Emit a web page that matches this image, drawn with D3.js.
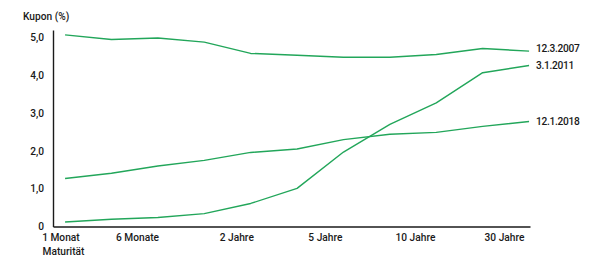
<!DOCTYPE html>
<head>
    <title>Kupon</title>
    <script src="https://cdnjs.cloudflare.com/ajax/libs/d3/7.1.1/d3.min.js"></script>
    <style>
        body { margin: 0; background: #fff; }
        text { font-family: Roboto, "Liberation Sans", Arial, sans-serif; font-weight: 500; fill: #1a1a1a; }
    </style>
</head>
<body>
    <div id="chart"></div>
    <script type="text/javascript">
        // maturity points (index along x) and the yield curves
        const points = [0, 1, 2, 3, 4, 5, 6, 7, 8, 9, 10];
        const seriesNames = ["12.3.2007", "3.1.2011", "12.1.2018"];
        const s2007 = [5.07, 4.95, 4.99, 4.88, 4.58, 4.53, 4.48, 4.48, 4.55, 4.71, 4.64];
        const s2011 = [0.12, 0.19, 0.24, 0.34, 0.61, 1.01, 1.97, 2.70, 3.27, 4.07, 4.26];
        const s2018 = [1.27, 1.41, 1.60, 1.75, 1.96, 2.05, 2.30, 2.44, 2.49, 2.65, 2.78];

        // x tick labels and where they sit on the index scale
        const xTickLabels = ["1 Monat", "6 Monate", "2 Jahre", "5 Jahre", "10 Jahre", "30 Jahre"];
        const xTickPos = [-0.1, 1.55, 3.69, 5.6, 7.54, 9.46];
        const yTicks = [0, 1, 2, 3, 4, 5];

        const width = 600;
        const height = 265;
        const green = "#22a65a";
        const font = "Roboto, 'Liberation Sans', Arial, sans-serif";

        const svg = d3.select("#chart")
            .append("svg")
            .attr("width", width)
            .attr("height", height);

        const xScale = d3.scaleLinear()
            .domain([-0.26, 10.02])
            .range([53, 530]);

        const yScale = d3.scaleLinear()
            .domain([0, 5.2])
            .range([226.5, 30]);

        // X Axis
        const xAxis = d3.axisBottom(xScale)
            .tickValues(xTickPos)
            .tickFormat((d, i) => xTickLabels[i])
            .tickSize(0)
            .tickPadding(7);

        svg.append("g")
            .attr("class", "axis x")
            .attr("transform", "translate(0," + yScale(0) + ")")
            .call(xAxis);

        // Y Axis
        const yAxis = d3.axisLeft(yScale)
            .tickValues(yTicks)
            .tickFormat(d => d === 0 ? "0" : d3.format(".1f")(d).replace(".", ","))
            .tickSize(0)
            .tickPadding(9);

        svg.append("g")
            .attr("class", "axis y")
            .attr("transform", "translate(" + xScale.range()[0] + ",0)")
            .call(yAxis);

        svg.selectAll(".axis .domain")
            .attr("stroke", "#1a1a1a")
            .attr("stroke-width", 1.4);
        svg.selectAll(".axis text")
            .attr("font-size", "10.2px")
            .attr("font-family", font)
            .attr("font-weight", 500)
            .attr("fill", "#1a1a1a");

        // axis titles
        svg.append("text")
            .attr("x", 23)
            .attr("y", 19.5)
            .attr("font-size", "10.2px")
            .text("Kupon (%)");

        svg.append("text")
            .attr("x", 42.5)
            .attr("y", 254.5)
            .attr("font-size", "10.2px")
            .text("Maturität");

        // lines
        const allSeries = [s2007, s2011, s2018];
        const line = d3.line()
            .x((d, i) => xScale(points[i]))
            .y(d => yScale(d));

        svg.append("g")
            .attr("class", "lines")
            .selectAll("path")
            .data(allSeries)
            .enter()
            .append("path")
            .attr("d", d => line(d))
            .attr("fill", "none")
            .attr("stroke", green)
            .attr("stroke-width", 1.4)
            .attr("stroke-linejoin", "round");

        // end labels
        svg.append("g")
            .attr("class", "labels")
            .selectAll("text")
            .data(allSeries)
            .enter()
            .append("text")
            .attr("x", xScale(points[points.length - 1]) + 7)
            .attr("y", d => yScale(d[d.length - 1]))
            .attr("dy", (d, i) => i === 0 ? "0.05em" : "0.35em")
            .attr("font-size", "10.2px")
            .attr("letter-spacing", "-0.3px")
            .text((d, i) => seriesNames[i]);
    </script>
</body>
